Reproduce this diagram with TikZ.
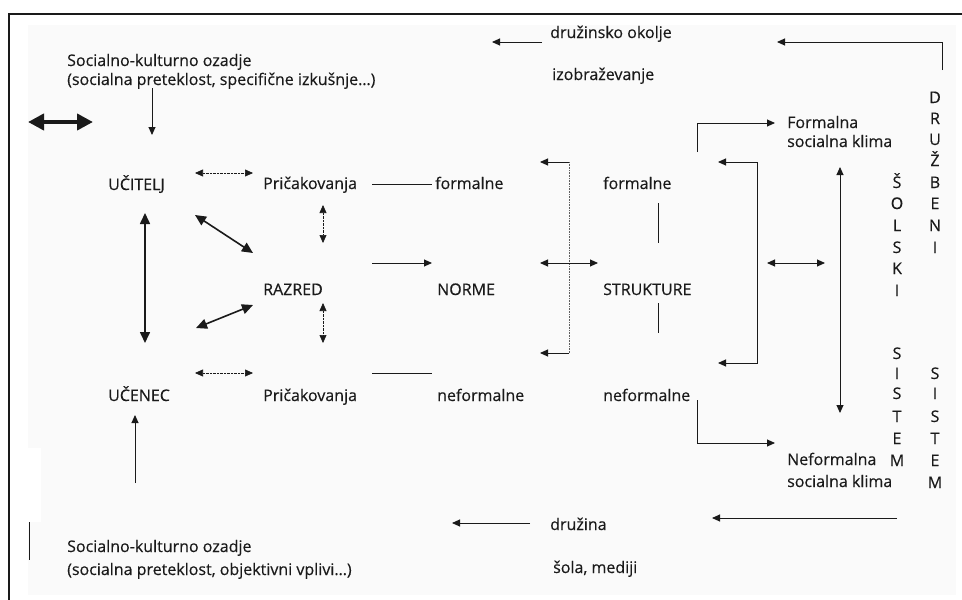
\documentclass[tikz,border=0pt]{standalone}
\usepackage{fontspec}
\setmainfont{Open Sans}
\newfontfamily\heavyfont{Open Sans}[FakeBold=0.35]
\usetikzlibrary{arrows.meta}
\definecolor{ink}{HTML}{1A1A1A}
\definecolor{paper}{HTML}{FAFAFA}
\newcommand\txtfont{\heavyfont\fontsize{16}{19}\selectfont}
\begin{document}
\begin{tikzpicture}[x=1pt,y=-1pt,
  lbl/.style={anchor=base west, inner sep=0pt, font=\txtfont, text=ink},
  letter/.style={anchor=base, inner sep=0pt, font=\txtfont, text=ink},
  arr/.style={draw=ink, line width=0.9pt, -{Triangle[length=8pt,width=7pt]}},
  darr/.style={draw=ink, line width=0.9pt, {Triangle[length=8pt,width=7pt]}-{Triangle[length=8pt,width=7pt]}},
  dotarr/.style={draw=ink, line width=0.6pt, dash pattern=on 0.7pt off 0.7pt,
    {Triangle[length=8pt,width=7pt]}-{Triangle[length=8pt,width=7pt]}},
  boldarr/.style={draw=ink, line width=1.6pt, {Triangle[length=11pt,width=10pt]}-{Triangle[length=11pt,width=10pt]}},
  plain/.style={draw=ink, line width=0.9pt},
]
% sheet, scanned area and frame
\useasboundingbox (0,0) rectangle (962,600);
\fill[white] (0,0) rectangle (962,600);
\fill[paper] (28,25) rectangle (956,595);
\fill[white] (28,448) rectangle (41,522);
\draw[ink, line width=2.5pt] (9,600) -- (9,14) -- (962,14);
\draw[ink, line width=1pt] (29,522) -- (29,560);

% texts, left part
\node[lbl] (sk1) at (67,66) {Socialno-kulturno ozadje};
\node[lbl] (sk2) at (67,85) {(socialna preteklost, specifične izkušnje…)};
\node[lbl] (uc) at (108,190) {UČITELJ};
\node[lbl] (p1) at (263,189) {Pričakovanja};
\node[lbl] (f1) at (435,189) {formalne};
\node[lbl] (raz) at (263,295) {RAZRED};
\node[lbl] (norme) at (437,295) {NORME};
\node[lbl] (ucen) at (108,401) {UČENEC};
\node[lbl] (p2) at (263,401) {Pričakovanja};
\node[lbl] (nf1) at (437,401) {neformalne};
\node[lbl] (sk3) at (67,552) {Socialno-kulturno ozadje};
\node[lbl] (sk4) at (67,575) {(socialna preteklost, objektivni vplivi…)};

% texts, right part
\node[lbl] (dok) at (550,38) {družinsko okolje};
\node[lbl] (izo) at (552,80) {izobraževanje};
\node[lbl] (f2) at (603,189) {formalne};
\node[lbl] (str) at (603,295) {STRUKTURE};
\node[lbl] (nf2) at (603,401) {neformalne};
\node[lbl] (fk1) at (787,128) {Formalna};
\node[lbl] (fk2) at (787,147) {socialna klima};
\node[lbl] (nk1) at (787,465) {Neformalna};
\node[lbl] (nk2) at (787,487) {socialna klima};
\node[lbl] (dru) at (550,530) {družina};
\node[lbl] (sol) at (553,573) {šola, mediji};

% vertical captions
\foreach \c/\y [count=\i] in {Š/182,O/203,L/225,S/247,K/268,I/290,S/353,I/373,S/393,T/416,E/438,M/460}
  \node[letter] (sk-\i) at (897,\y+6) {\c};
\foreach \c/\y [count=\i] in {D/97,R/118,U/139,Ž/160,B/182,E/203,N/225,I/247,S/373,I/393,S/416,T/438,E/460,M/482}
  \node[letter] (dr-\i) at (935,\y+6) {\c};

% connector end points
\coordinate (a1s) at (152,88);  \coordinate (a1e) at (152,135);
\coordinate (tk1) at (28,122);  \coordinate (tk2) at (93,122);
\coordinate (d1a) at (195,173); \coordinate (d1b) at (253,173);
\coordinate (l1a) at (372,184); \coordinate (l1b) at (432,184);
\coordinate (v1a) at (323,205); \coordinate (v1b) at (323,243);
\coordinate (g1a) at (195,215); \coordinate (g1b) at (253,253);
\coordinate (bva) at (145,213); \coordinate (bvb) at (145,343);
\coordinate (n1a) at (372,263); \coordinate (n1b) at (432,263);
\coordinate (g2a) at (196,328); \coordinate (g2b) at (253,305);
\coordinate (v2a) at (323,303); \coordinate (v2b) at (323,343);
\coordinate (d2a) at (195,373); \coordinate (d2b) at (253,373);
\coordinate (l2a) at (372,373); \coordinate (l2b) at (432,373);
\coordinate (a2s) at (135,483); \coordinate (a2e) at (135,415);
\coordinate (okA) at (542,42);  \coordinate (okB) at (492,42);
\coordinate (dr0) at (942,70);  \coordinate (drc) at (942,42); \coordinate (dre) at (777,42);
\coordinate (lbT) at (569,162); \coordinate (lbB) at (569,353);
\coordinate (lbTe) at (540,162); \coordinate (lbBe) at (540,353);
\coordinate (m1a) at (540,263); \coordinate (m1b) at (598,263);
\coordinate (s1a) at (658,203); \coordinate (s1b) at (658,243);
\coordinate (s2a) at (658,303); \coordinate (s2b) at (658,333);
\coordinate (rbT) at (757,162); \coordinate (rbB) at (757,363);
\coordinate (rbTe) at (718,162); \coordinate (rbBe) at (718,363);
\coordinate (m2a) at (767,263); \coordinate (m2b) at (825,263);
\coordinate (fa0) at (697,152); \coordinate (fac) at (697,123); \coordinate (fae) at (775,123);
\coordinate (kva) at (840,167); \coordinate (kvb) at (840,413);
\coordinate (na0) at (697,400); \coordinate (nac) at (697,443); \coordinate (nae) at (775,443);
\coordinate (bo1) at (897,518); \coordinate (bo2) at (712,518);
\coordinate (dz1) at (530,523); \coordinate (dz2) at (452,523);

% connectors, left part
\draw[arr] (a1s) -- (a1e);
\draw[ink, line width=4pt, {Triangle[length=16pt,width=16pt]}-{Triangle[length=16pt,width=16pt]}] (tk1) -- (tk2);
\draw[dotarr] (d1a) -- (d1b);
\draw[plain] (l1a) -- (l1b);
\draw[dotarr] (v1a) -- (v1b);
\draw[boldarr] (g1a) -- (g1b);
\draw[boldarr] (bva) -- (bvb);
\draw[arr] (n1a) -- (n1b);
\draw[boldarr] (g2a) -- (g2b);
\draw[dotarr] (v2a) -- (v2b);
\draw[dotarr] (d2a) -- (d2b);
\draw[plain] (l2a) -- (l2b);
\draw[arr] (a2s) -- (a2e);

% connectors, right part
\draw[arr] (okA) -- (okB);
\draw[arr] (dr0) -- (drc) -- (dre);
\draw[arr] (lbT) -- (lbTe);
\draw[arr] (lbB) -- (lbBe);
\draw[draw=ink!70, line width=0.8pt, dash pattern=on 1pt off 0.6pt] (lbT) -- (lbB);
\draw[darr] (m1a) -- (m1b);
\draw[plain] (s1a) -- (s1b);
\draw[plain] (s2a) -- (s2b);
\draw[darr] (rbTe) -- (rbT) -- (rbB) -- (rbBe);
\draw[darr] (m2a) -- (m2b);
\draw[arr] (fa0) -- (fac) -- (fae);
\draw[darr] (kva) -- (kvb);
\draw[arr] (na0) -- (nac) -- (nae);
\draw[arr] (bo1) -- (bo2);
\draw[arr] (dz1) -- (dz2);
\end{tikzpicture}
\end{document}
